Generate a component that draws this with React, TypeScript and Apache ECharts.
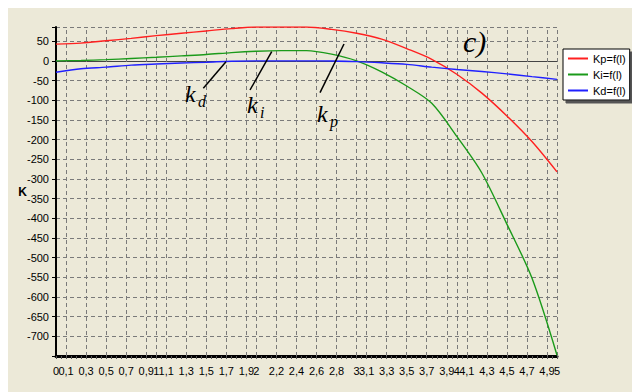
import React, { useEffect, useRef } from "react";
import * as echarts from "echarts";

const xLabelValues = [0, 0.1, 0.3, 0.5, 0.7, 0.9, 1, 1.1, 1.3, 1.5, 1.7, 1.9, 2, 2.2, 2.4, 2.6, 2.8, 3, 3.1, 3.3, 3.5, 3.7, 3.9, 4, 4.1, 4.3, 4.5, 4.7, 4.9, 5];
const yTickLabels = [50, 0, -50, -100, -150, -200, -250, -300, -350, -400, -450, -500, -550, -600, -650, -700];

const xValues = [0, 0.25, 0.5, 0.75, 1, 1.25, 1.5, 1.75, 2, 2.25, 2.5, 2.75, 3, 3.25, 3.5, 3.75, 4, 4.25, 4.5, 4.75, 5];
const kpValues = [42.5, 45, 51, 57, 64, 70, 76, 82, 86, 86, 86, 80, 70, 55, 31, 4, -34, -82, -140, -205, -282];
const kiValues = [0, 1, 3, 6, 9, 12.5, 16, 21, 24.5, 26, 26, 17, 0, -28, -64, -108, -192, -285, -415, -552, -748];
const kdValues = [-29, -20, -16, -11, -8, -5.5, -3.5, -1, 0, 0, 0, -0.5, -2, -5, -9, -16, -22, -27, -33, -40, -47];

const seriesNames = ["Kp=f(l)", "Ki=f(l)", "Kd=f(l)"];
const seriesColors = ["#ff2020", "#1a9a1a", "#2020ff"];

const BG = "#ECE9D8";
const FONT = "'Liberation Sans Narrow', 'Liberation Sans', Arial, sans-serif";
const SERIF = "'Liberation Serif', 'DejaVu Serif', serif";

const fmt = (v: number) => String(Math.round(v * 10) / 10).replace(".", ",");
const labelKeys = new Set(xLabelValues.map((v) => Math.round(v * 100)));

export default function App() {
  const ref = useRef<HTMLDivElement>(null);
  useEffect(() => {
    if (!ref.current) return;
    const chart = echarts.init(ref.current, undefined, { renderer: "svg" });
    const seriesData = [kpValues, kiValues, kdValues];
    const option: any = {
      animation: false,
      backgroundColor: BG,
      grid: { left: 48, top: 19, width: 501, height: 329, show: true, backgroundColor: BG, borderWidth: 0 },
      legend: {
        orient: "vertical",
        left: 555,
        top: 41,
        data: seriesNames.map((name) => ({ name, icon: "rect" })),
        itemWidth: 20,
        itemHeight: 2,
        itemGap: 5,
        padding: [4, 4, 4, 5],
        backgroundColor: "#ffffff",
        borderColor: "#000000",
        borderWidth: 1,
        shadowColor: "#555555",
        shadowOffsetX: 3,
        shadowOffsetY: 3,
        shadowBlur: 0,
        textStyle: { fontSize: 11, fontFamily: FONT, color: "#000" },
        z: 10,
      },
      xAxis: [
        {
          type: "value",
          min: 0,
          max: 5,
          interval: 0.05,
          axisLine: { show: true, onZero: false, lineStyle: { color: "#000", width: 3 } },
          axisTick: { show: true, length: 3, lineStyle: { color: "#555", width: 1 } },
          axisLabel: {
            margin: 9,
            fontSize: 11,
            fontFamily: FONT,
            color: "#000",
            showMinLabel: true,
            showMaxLabel: true,
            formatter: (v: number) => (labelKeys.has(Math.round(v * 100)) ? fmt(v) : ""),
          },
          splitLine: { show: false },
        },
        {
          type: "value",
          position: "top",
          min: 0,
          max: 5,
          axisLine: { show: true, lineStyle: { color: "#444", width: 1 } },
          axisTick: { show: false },
          axisLabel: { show: false },
          splitLine: { show: false },
        },
      ],
      yAxis: {
        type: "value",
        min: -750,
        max: 86,
        interval: 50,
        axisLine: { show: true, onZero: false, lineStyle: { color: "#000", width: 2 } },
        axisTick: { show: true, length: 4, lineStyle: { color: "#000" } },
        axisLabel: {
          margin: 7,
          fontSize: 11,
          fontFamily: FONT,
          color: "#000",
          formatter: (v: number) => (yTickLabels.includes(v) ? String(v) : ""),
        },
        splitLine: { show: true, lineStyle: { color: "#7a7a7a", type: [4, 3], width: 1 } },
      },
      series: seriesNames.map((name, i) => ({
        name,
        type: "line",
        xAxisIndex: 0,
        data: xValues.map((x, j) => [x, seriesData[i][j]]),
        symbol: "none",
        smooth: 0.3,
        clip: true,
        lineStyle: { color: seriesColors[i], width: 1.4 },
        itemStyle: { color: seriesColors[i] },
        z: 3,
        markLine:
          i === 0
            ? {
                silent: true,
                symbol: ["none", "none"],
                label: { show: false },
                lineStyle: { color: "#7a7a7a", type: [4, 3], width: 1 },
                z: 1,
                data: xLabelValues.filter((v) => v > 0).map((v) => ({ xAxis: v })),
              }
            : undefined,
      })),
      graphic: [
        { type: "text", x: 14.7, y: 184, style: { text: "K", font: "bold 12px 'Liberation Sans', Arial", fill: "#000", align: "center", verticalAlign: "middle" } },
        { type: "text", x: 455, y: 33.3, z: 20, style: { text: "c)", font: `italic 30px ${SERIF}`, fill: "#000", align: "left", verticalAlign: "middle" } },
        { type: "text", x: 177, y: 85.8, z: 20, style: { text: "k", font: `italic 24px ${SERIF}`, fill: "#000", align: "left", verticalAlign: "middle" } },
        { type: "text", x: 190, y: 93.6, z: 20, style: { text: "d", font: `italic 16px ${SERIF}`, fill: "#000", align: "left", verticalAlign: "middle" } },
        { type: "text", x: 239, y: 96.8, z: 20, style: { text: "k", font: `italic 24px ${SERIF}`, fill: "#000", align: "left", verticalAlign: "middle" } },
        { type: "text", x: 252, y: 104.6, z: 20, style: { text: "i", font: `italic 16px ${SERIF}`, fill: "#000", align: "left", verticalAlign: "middle" } },
        { type: "text", x: 309, y: 105.8, z: 20, style: { text: "k", font: `italic 24px ${SERIF}`, fill: "#000", align: "left", verticalAlign: "middle" } },
        { type: "text", x: 322, y: 113.6, z: 20, style: { text: "p", font: `italic 16px ${SERIF}`, fill: "#000", align: "left", verticalAlign: "middle" } },
        { type: "line", z: 20, shape: { x1: 195.3, y1: 80.3, x2: 218, y2: 53.7 }, style: { stroke: "#000", lineWidth: 1.5 } },
        { type: "line", z: 20, shape: { x1: 242, y1: 82, x2: 263.7, y2: 43.7 }, style: { stroke: "#000", lineWidth: 1.5 } },
        { type: "line", z: 20, shape: { x1: 312, y1: 84.7, x2: 336, y2: 36 }, style: { stroke: "#000", lineWidth: 1.5 } },
      ],
    };
    chart.setOption(option);
    return () => chart.dispose();
  }, []);
  return <div ref={ref} style={{ width: 632, height: 384, background: BG }} />;
}
